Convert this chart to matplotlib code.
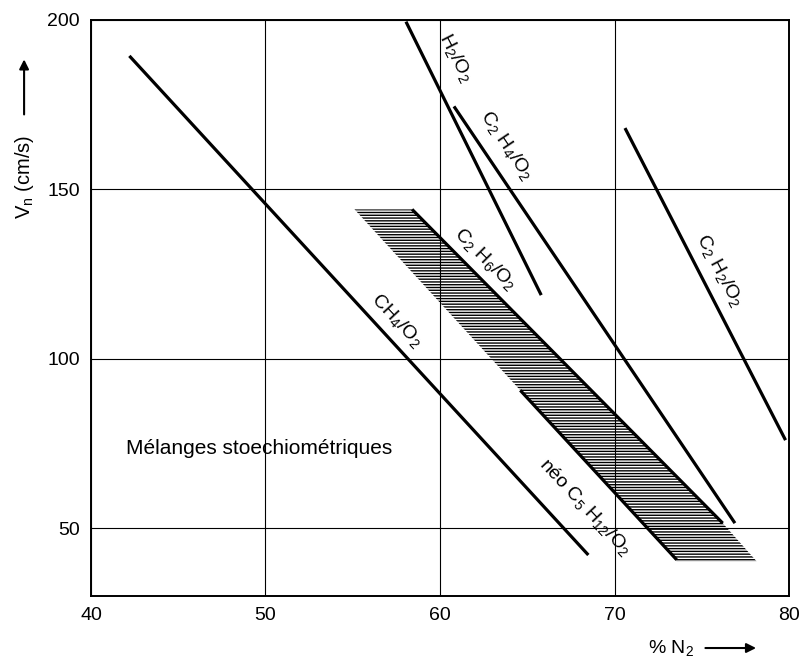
import matplotlib.pyplot as plt

plt.rcParams['font.family'] = ['Liberation Sans', 'DejaVu Sans']
plt.rcParams['mathtext.default'] = 'regular'
plt.rcParams['hatch.linewidth'] = 1.0

# droites (x = % N2, y = Vn en cm/s)
ch4_x = [42.2, 68.5]
ch4_y = [189.4, 42.1]
h2_x = [58.05, 65.8]
h2_y = [199.5, 118.8]
c2h4_x = [60.8, 76.9]
c2h4_y = [174.5, 51.5]
c2h2_x = [70.6, 79.8]
c2h2_y = [168.1, 76.0]
c2h6_x = [58.4, 76.2]
c2h6_y = [144.1, 51.5]
c5_x = [64.6, 73.56]
c5_y = [90.7, 40.7]

# zone hachurée entre C2H6 et néo C5
zone_x = [55.1, 58.4, 76.2, 78.15, 73.56, 64.6]
zone_y = [144.1, 144.1, 51.5, 40.2, 40.2, 90.7]

# étiquettes : texte, x, y, angle
etiquettes = [
    ("CH$_4$/O$_2$", 57.5, 111.5, -47),
    ("H$_2$/O$_2$", 60.9, 189.0, -63),
    ("C$_2$ H$_4$/O$_2$", 63.8, 163.0, -56),
    ("C$_2$ H$_6$/O$_2$", 62.6, 129.5, -45),
    ("C$_2$ H$_2$/O$_2$", 76.0, 126.0, -62),
    ("néo C$_5$ H$_{12}$/O$_2$", 68.3, 56.4, -47),
]

fig = plt.figure(figsize=(8.03, 6.66), dpi=100)
ax = fig.add_axes([0.1133, 0.1051, 0.8693, 0.8649])

ax.fill(zone_x, zone_y, facecolor='none', edgecolor='black', hatch='------', linewidth=0)

for xs, ys in [(ch4_x, ch4_y), (h2_x, h2_y), (c2h4_x, c2h4_y), (c2h2_x, c2h2_y),
               (c2h6_x, c2h6_y), (c5_x, c5_y)]:
    ax.plot(xs, ys, color='black', lw=2.3, solid_capstyle='butt')

for txt, x, y, ang in etiquettes:
    ax.text(x, y, txt, rotation=ang, rotation_mode='anchor', ha='center', va='center',
            fontsize=14)

ax.text(42.0, 73.5, "Mélanges stoechiométriques", fontsize=15, va='center', ha='left')

ax.set_xlim(40, 80)
ax.set_ylim(30, 200)
ax.set_xticks([40, 50, 60, 70, 80])
ax.set_yticks([50, 100, 150, 200])
ax.tick_params(length=0, labelsize=14, pad=8)
ax.grid(True, color='black', lw=0.8)
for s in ax.spines.values():
    s.set_linewidth(1.4)

# titres des axes avec flèches
fig.text(0.030, 0.734, "V$_n$ (cm/s)", rotation=90, ha='center', va='center', fontsize=14.5)
fig.text(0.835, 0.027, "% N$_2$", ha='center', va='center', fontsize=14)
ax.annotate("", xy=(0.030, 0.915), xytext=(0.030, 0.824), xycoords='figure fraction',
            arrowprops=dict(arrowstyle='-|>', color='black', lw=1.5, mutation_scale=14))
ax.annotate("", xy=(0.945, 0.027), xytext=(0.875, 0.027), xycoords='figure fraction',
            arrowprops=dict(arrowstyle='-|>', color='black', lw=1.5, mutation_scale=14))

fig.savefig("out.png", dpi=100)
